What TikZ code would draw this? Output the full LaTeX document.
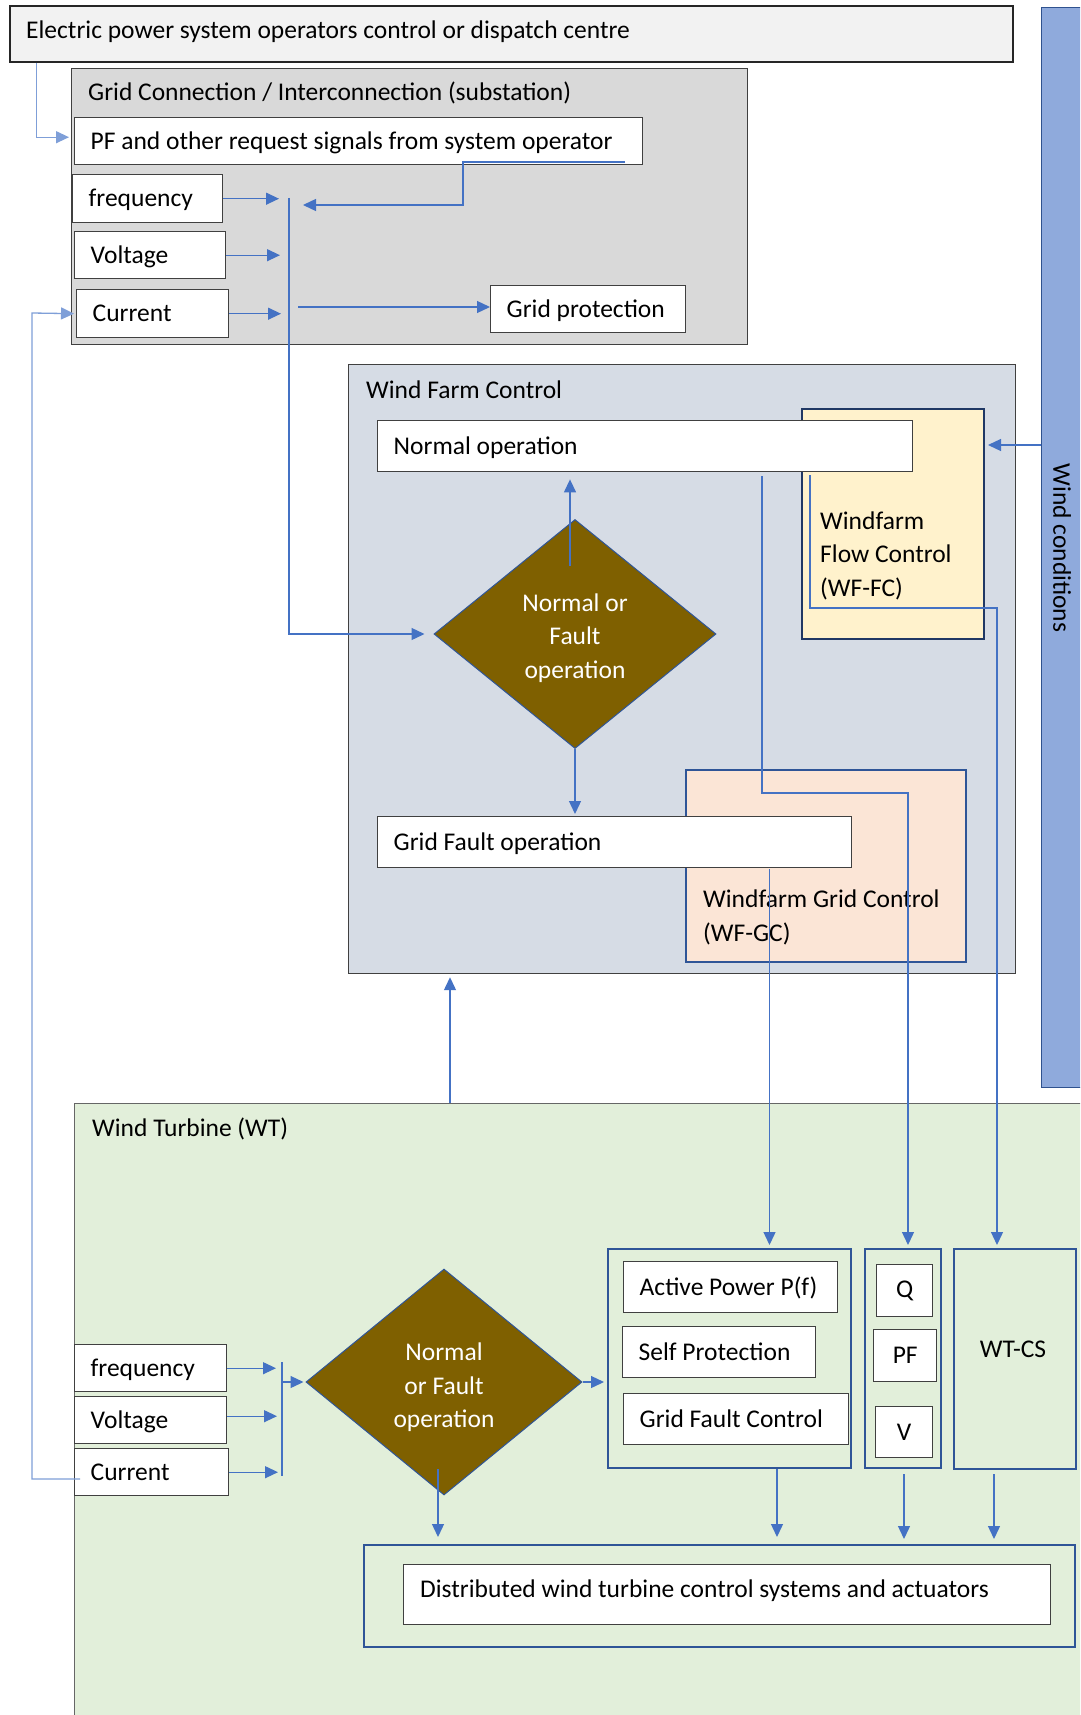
\documentclass[tikz,border=0pt]{standalone}
\usepackage{fontspec}
\setmainfont{Carlito}
\usetikzlibrary{shapes.geometric,arrows.meta,calc}

\definecolor{edgegray}{HTML}{404040}
\definecolor{topfill}{HTML}{F2F2F2}
\definecolor{gcfill}{HTML}{D9D9D9}
\definecolor{wfcfill}{HTML}{D6DCE5}
\definecolor{fcfill}{HTML}{FFF2CC}
\definecolor{gcbfill}{HTML}{FBE5D6}
\definecolor{windfill}{HTML}{8FAADC}
\definecolor{windedge}{HTML}{2F528F}
\definecolor{wtfill}{HTML}{E2EFDA}
\definecolor{diafill}{HTML}{7F6000}
\definecolor{groupblue}{HTML}{2F5597}
\definecolor{navy}{HTML}{203864}
\definecolor{connblue}{HTML}{4472C4}
\definecolor{lightconn}{HTML}{7F9FD8}

\begin{document}
\begin{tikzpicture}[x=1pt,y=-1pt,
  txt/.style={font=\fontsize{25.5}{33.5}\selectfont},
  container/.style={draw=edgegray, line width=1.2pt, anchor=north west, inner sep=0pt},
  title/.style={txt, anchor=west, inner sep=0pt},
  wbox/.style={txt, draw=edgegray, line width=1.4pt, fill=white, anchor=north west,
    inner xsep=16pt, inner ysep=0pt, align=flush left, text height=19.5pt, text depth=3pt},
  cbox/.style={txt, draw=edgegray, line width=1.4pt, fill=white, anchor=north west,
    inner sep=0pt, align=center},
  gbox/.style={draw=groupblue, line width=2pt, anchor=north west, inner sep=0pt},
  dia/.style={diamond, fill=diafill, draw=groupblue, line width=1pt, inner sep=0pt},
  diatext/.style={txt, text=white, align=center, inner sep=0pt},
  conn/.style={draw=connblue, line width=1.3pt},
  arr/.style={conn, -{Triangle[length=13pt,width=12pt]}},
]
\useasboundingbox (0,0) rectangle (1080,1715);
\clip (0,0) rectangle (1080,1715);
\fill[white] (0,0) rectangle (1080,1715);

% ---------- dispatch centre ----------
\node[container, line width=1.8pt, draw=black!85, fill=topfill,
  minimum width=1003pt, minimum height=56pt] (top) at (9,5) {};
\node[title] (toptext) at (26,32) {Electric power system operators control or dispatch centre};

% ---------- wind conditions ----------
\node[container, draw=windedge, fill=windfill, minimum width=46pt, minimum height=1080pt]
  (windbar) at (1041,7) {};
\node[txt, rotate=-90, inner sep=0pt] (windtext) at (1062,548) {Wind conditions};

% ---------- grid connection ----------
\node[container, fill=gcfill, minimum width=676pt, minimum height=276pt] (gc) at (71,68) {};
\node[title] (gctitle) at (88,93) {Grid Connection / Interconnection (substation)};
\node[wbox, text width=536pt, minimum height=47pt] (pf) at (74,117)
  {PF and other request signals from system operator};
\node[wbox, text width=118pt, minimum height=48pt] (gfreq) at (72,174) {frequency};
\node[wbox, text width=119pt, minimum height=47pt] (gvolt) at (74,231) {Voltage};
\node[wbox, text width=120pt, minimum height=48pt] (gcurr) at (76,289) {Current};
\node[wbox, text width=163pt, minimum height=47pt] (gprot) at (490,285) {Grid protection};

% ---------- wind farm control ----------
\node[container, fill=wfcfill, minimum width=667pt, minimum height=609pt] (wfc) at (348,364) {};
\node[title] (wfctitle) at (366,390) {Wind Farm Control};
\node[container, draw=navy, line width=2pt, fill=fcfill, minimum width=182pt, minimum height=230pt]
  (wffc) at (801,408) {};
\node[title, align=left, anchor=north west] (wffctext) at (820,511.5)
  {Windfarm\\Flow Control\\(WF-FC)};
\node[container, draw=groupblue, line width=2pt, fill=gcbfill, minimum width=280pt, minimum height=192pt]
  (wfgc) at (685,769) {};
\node[wbox, text width=503pt, minimum height=51pt] (normal) at (377,420) {Normal operation};
\node[wbox, text width=442pt, minimum height=51pt] (fault) at (377,816) {Grid Fault operation};
\node[title, align=left, anchor=north west] (wfgctext) at (703,890)
  {Windfarm Grid Control\\(WF-GC)};
\node[dia, minimum width=282pt, minimum height=229pt] (wfdia) at (575,634) {};
\node[diatext] (wfdiatext) at (575,638) {Normal or\\Fault\\operation};

% ---------- wind turbine ----------
\node[container, draw=edgegray!80, fill=wtfill, minimum width=1020pt, minimum height=620pt]
  (wt) at (74,1103) {};
\node[title] (wttitle) at (92,1129) {Wind Turbine (WT)};
\node[wbox, text width=120pt, minimum height=47pt] (wfreq) at (74,1344) {frequency};
\node[wbox, text width=120pt, minimum height=47pt] (wvolt) at (74,1396) {Voltage};
\node[wbox, text width=122pt, minimum height=47pt] (wcurr) at (74,1448) {Current};
\node[dia, minimum width=276pt, minimum height=226pt] (wtdia) at (444,1382) {};
\node[diatext] (wtdiatext) at (444,1387.5) {Normal\\or Fault\\operation};

\node[gbox, minimum width=243pt, minimum height=219pt] (apgroup) at (607,1248) {};
\node[wbox, text width=182pt, minimum height=51pt] (ap) at (623,1261) {Active Power P(f)};
\node[wbox, text width=161pt, minimum height=51pt] (sp) at (622,1326) {Self Protection};
\node[wbox, text width=193pt, minimum height=51pt] (gfc) at (623,1393) {Grid Fault Control};

\node[gbox, minimum width=76pt, minimum height=219pt] (qgroup) at (864,1248) {};
\node[cbox, minimum width=56pt, minimum height=52pt] (qbox) at (876,1264) {Q};
\node[cbox, minimum width=63pt, minimum height=52pt] (pfbox) at (873,1329) {PF};
\node[cbox, minimum width=57pt, minimum height=51pt] (vbox) at (875,1406) {V};

\node[gbox, minimum width=122pt, minimum height=220pt] (wtcs) at (953,1248) {};
\node[txt, inner sep=0pt] (wtcstext) at (1013,1349) {WT-CS};

\node[gbox, minimum width=711pt, minimum height=102pt] (distout) at (363,1544) {};
\node[cbox, minimum width=647pt, minimum height=60pt] (distin) at (403,1564) {};
\node[title] (disttext) at (420,1590.5) {Distributed wind turbine control systems and actuators};

% ---------- tap points and bends ----------
\coordinate (tap) at (36.5,0);
\coordinate (gbustop) at (289,198);
\coordinate (pfout) at (625,162);
\coordinate (pfdrop) at (463,205);
\coordinate (gbusin) at (303,205);
\coordinate (gcurrtap) at (298,307);
\coordinate (wfin) at (0,445);
\coordinate (diaup) at (570,566);
\coordinate (nx) at (762,0);
\coordinate (qbend) at (908,793);
\coordinate (fcout) at (810,475);
\coordinate (fcbend) at (997,608);
\coordinate (ax) at (769.5,0);
\coordinate (ux) at (450,0);
\coordinate (wcurrtap) at (80,1479);
\coordinate (fbcorner) at (32,313);
\coordinate (wbustop) at (282,1362);
\coordinate (wbusbot) at (282,1476);
\coordinate (dx1) at (438,1469);
\coordinate (dx2) at (777,0);
\coordinate (dx3) at (904,0);
\coordinate (dx4) at (994,0);

% ---------- connectors: substation ----------
\draw[arr, draw=lightconn, shorten >=5pt] (top.south -| tap) |- ($(pf.west)+(0,-4)$);
\draw[arr, shorten >=10pt] (gfreq.east) -- (gfreq.east -| gbustop);
\draw[arr, shorten >=9pt] (gvolt.east) -- (gvolt.east -| gbustop);
\draw[arr, shorten >=8pt] (gcurr.east) -- (gcurr.east -| gbustop);
\draw[arr, shorten >=9pt] (gbustop) |- (wfdia.west);
\draw[arr] (pfout) -| (pfdrop) -- (gbusin);
\draw[arr] (gcurrtap) -- (gcurrtap -| gprot.west);

% ---------- connectors: wind farm ----------
\draw[arr, shorten >=3pt] (windbar.west |- wfin) -- (wffc.east |- wfin);
\draw[arr, shorten >=7pt] (diaup) -- (normal.south -| diaup);
\draw[arr, shorten >=2pt] (wfdia.south) -- (fault.north -| wfdia.south);
\draw[arr, shorten >=3pt] ($(normal.south -| nx)+(0,4)$) |- (qbend) -- (qbend |- qgroup.north);
\draw[arr, shorten >=3pt] (fcout) |- (fcbend) -- (fcbend |- wtcs.north);
\draw[arr, shorten >=3pt] ($(fault.south -| ax)+(0,1)$) -- (apgroup.north -| ax);
\draw[arr, shorten >=3pt] (wt.north -| ux) -- (wfc.south -| ux);

% ---------- connectors: wind turbine ----------
\draw[arr, draw=lightconn, shorten >=2pt] (wcurrtap) -| (fbcorner) -- (gcurr.west);
\draw[conn] (wbustop) -- (wbusbot);
\draw[arr, shorten >=6pt] (wfreq.east) -- (wfreq.east -| wbustop);
\draw[arr, shorten >=5pt] ($(wvolt.east)+(0,-4)$) -- ($(wvolt.east -| wbustop)+(0,-4)$);
\draw[arr, shorten >=4pt] (wcurr.east) -- (wcurr.east -| wbustop);
\draw[arr, shorten >=2pt] (wbustop |- wtdia.west) -- (wtdia.west);
\draw[arr, shorten >=3pt] (wtdia.east) -- (apgroup.west |- wtdia.east);
\draw[arr, shorten >=7pt] (dx1) -- (distout.north -| dx1);
\draw[arr, shorten >=7pt] (apgroup.south -| dx2) -- (distout.north -| dx2);
\draw[arr, shorten >=5pt] ($(qgroup.south -| dx3)+(0,5)$) -- (distout.north -| dx3);
\draw[arr, shorten >=5pt] ($(wtcs.south -| dx4)+(0,4)$) -- (distout.north -| dx4);
\end{tikzpicture}
\end{document}
